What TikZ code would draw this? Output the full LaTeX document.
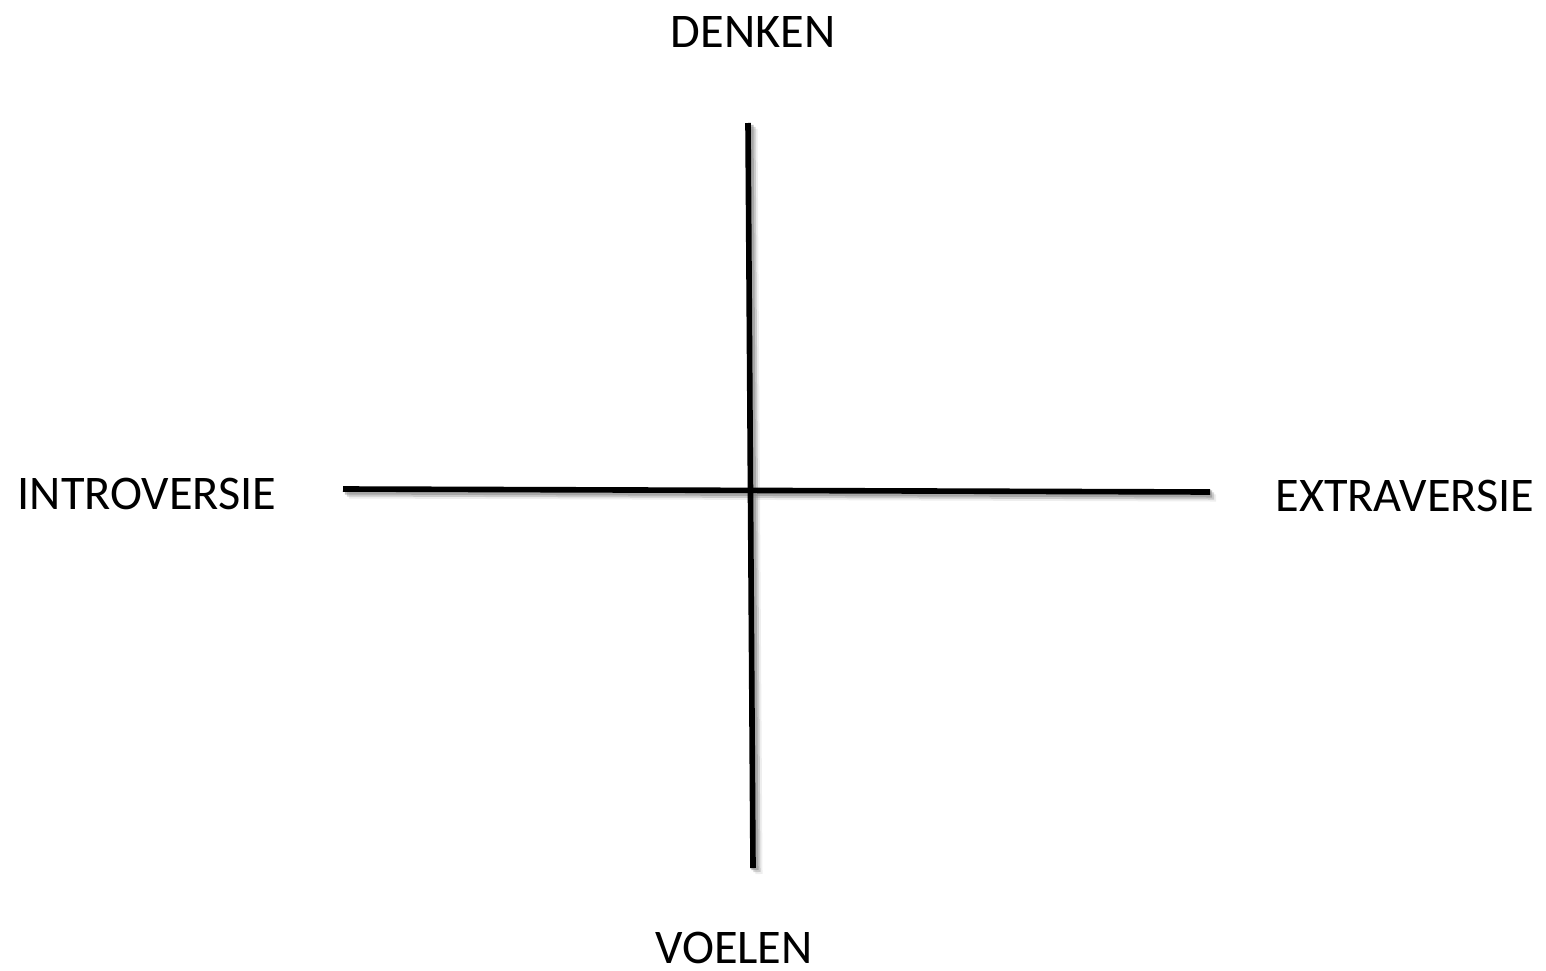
\documentclass[tikz,border=0pt]{standalone}
\usepackage{fontspec}
\setmainfont{Carlito}
\usetikzlibrary{positioning}
\definecolor{axInk}{HTML}{000000}
\definecolor{axShade}{HTML}{8A8A8A}
\tikzset{
  pole/.style     ={font=\fontsize{27.5}{33}\selectfont,text=axInk,inner sep=0pt},
  axisline/.style ={axInk,line width=3.2pt},
  shade/.style    ={axShade,line width=4pt},
}
\begin{document}
\begin{tikzpicture}
\useasboundingbox (0,0) rectangle (30.92,-19.4);
%% axis end points
\coordinate (west)  at (6.86,-9.78);
\coordinate (east)  at (24.2,-9.84);
\coordinate (north) at (14.96,-2.46);
\coordinate (south) at (15.06,-17.36);

%% soft shadow
\foreach \d/\o in {0.04/0.55,0.08/0.35,0.12/0.15} {
  \draw[shade,opacity=\o] ([shift={(\d,-\d)}]west) -- ([shift={(\d,-\d)}]east);
  \draw[shade,opacity=\o] ([shift={(\d,-\d)}]north) -- ([shift={(\d,-\d)}]south);
}
\draw[axisline] (west) -- (east);
\draw[axisline] (north) -- (south);

\node[pole] (denken) at (15.06,-0.64) {DENKEN};
\node[pole] (voelen) at (14.68,-18.96) {VOELEN};
\node[pole] (intro)  at (2.94,-9.88) {INTROVERSIE};
\node[pole] (extra)  at (28.1,-9.92) {EXTRAVERSIE};
\end{tikzpicture}
\end{document}
